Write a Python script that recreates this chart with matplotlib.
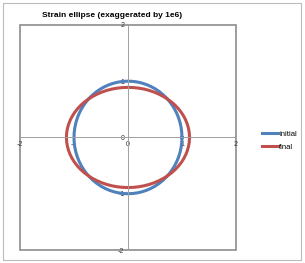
import numpy as np
import matplotlib.pyplot as plt
from matplotlib.patches import Rectangle

plt.rcParams["font.family"] = ["Liberation Sans", "DejaVu Sans"]

# chart data
angles_deg = list(range(0, 361, 5))
initial_axes = [1.0, 1.0]     # semi-axes (x, y) of the initial circle
final_axes = [1.14, 0.89]     # semi-axes (x, y) of the strained ellipse
series_names = ["initial", "final"]
series_colors = ["#4F81BD", "#C0504D"]
tick_values = [-2, -1, 0, 1, 2]

t = np.radians(angles_deg)

fig = plt.figure(figsize=(3.05, 2.63), dpi=100)
fig.patches.append(Rectangle((0.01, 0.013), 0.977, 0.975, transform=fig.transFigure,
                             fill=False, edgecolor="#bbbbbb", linewidth=0.8))
ax = fig.add_axes([0.0656, 0.0494, 0.708, 0.856])

for axes_ab, name, color in zip([initial_axes, final_axes], series_names, series_colors):
    ax.plot(axes_ab[0] * np.cos(t), axes_ab[1] * np.sin(t), color=color, lw=2.2, label=name)

ax.set_xlim(-2, 2)
ax.set_ylim(-2, 2)
ax.set_xticks(tick_values)
ax.set_yticks(tick_values)
ax.set_xticklabels([str(v) for v in tick_values])
ax.set_yticklabels([str(v) for v in tick_values])

ax.spines["left"].set_position("zero")
ax.spines["bottom"].set_position("zero")
ax.spines["top"].set_visible(False)
ax.spines["right"].set_visible(False)
for s in ["left", "bottom"]:
    ax.spines[s].set_color("#a0a0a0")
    ax.spines[s].set_linewidth(0.7)
ax.tick_params(direction="inout", length=3, width=0.6, colors="#a0a0a0",
               labelsize=5, labelcolor="#333333", pad=1)

# plot area border
ax.add_patch(Rectangle((0, 0), 1, 1, transform=ax.transAxes, fill=False,
                       edgecolor="#8c8c8c", linewidth=1.2, clip_on=False))

ax.set_title("Strain ellipse (exaggerated by 1e6)", fontsize=6, fontweight="bold",
             x=0.425, pad=6)

fig.legend(loc="center left", bbox_to_anchor=(0.835, 0.465), frameon=False,
           fontsize=5.5, handlelength=2.2, handletextpad=0.1, labelspacing=0.7)

fig.savefig("out.png", dpi=100)
